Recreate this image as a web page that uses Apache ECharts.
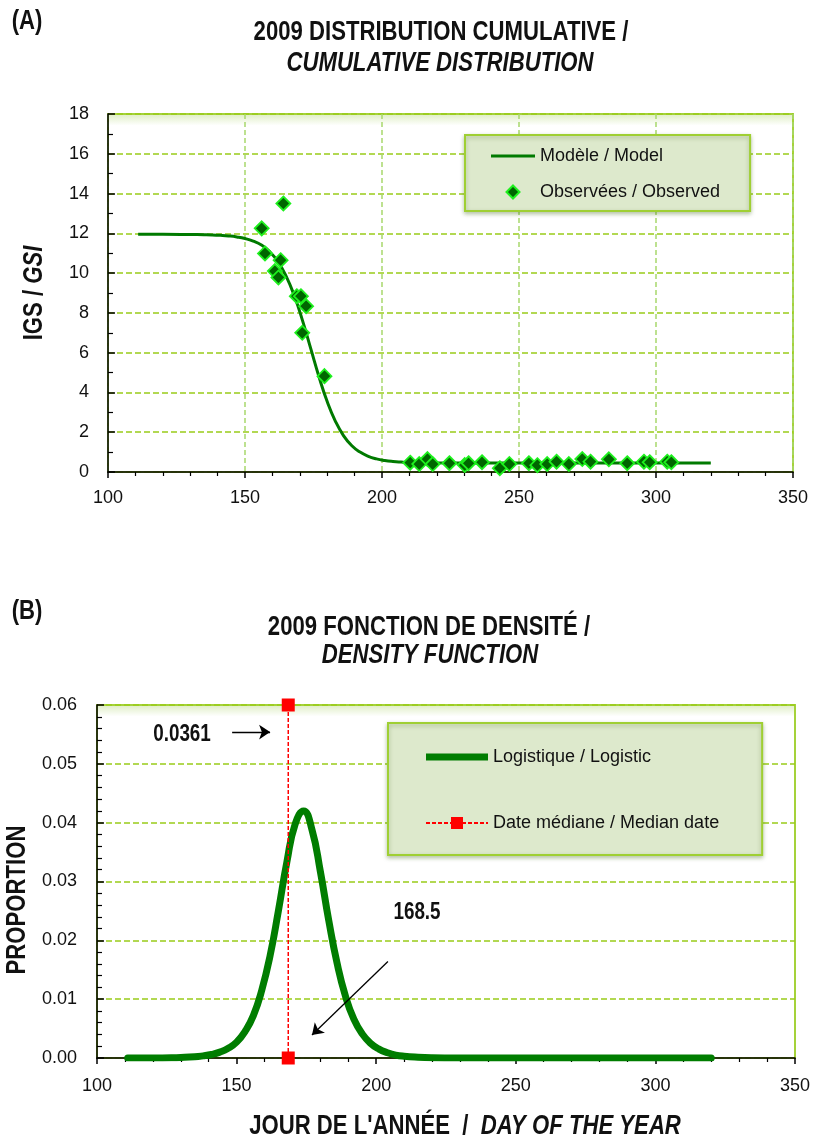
<!DOCTYPE html>
<html><head><meta charset="utf-8">
<script src="https://cdn.jsdelivr.net/npm/echarts@6/dist/echarts.min.js"></script>
<style>html,body{margin:0;padding:0;background:#fff}#c{width:817px;height:1143px}</style>
</head><body><div id="c"></div>
<script>
// ---- Panel A: cumulative distribution (IGS / GSI) ----
const modelX = [111,120,130,135,138,141,144,147,150,153,156,159,162,165,168,171,174,177,180,183,186,189,192,195,198,201,204,207,210,215,220,230,240,250,260,270,280,290,300,310,320];
const modelY = [11.95,11.95,11.94,11.93,11.92,11.90,11.87,11.82,11.74,11.61,11.41,11.08,10.58,9.85,8.86,7.61,6.20,4.79,3.54,2.55,1.82,1.32,1.00,0.79,0.66,0.58,0.53,0.50,0.48,0.47,0.46,0.45,0.45,0.45,0.45,0.45,0.45,0.45,0.45,0.45,0.45];
const obsX = [164.0,156.1,157.3,163.0,160.9,162.2,168.9,170.4,172.3,170.9,179.0,
              210.3,213.6,216.6,218.5,224.6,230.2,231.6,236.5,243.0,246.5,253.6,256.7,260.3,263.7,268.2,273.1,276.1,282.8,289.5,295.6,297.7,304.1,305.6];
const obsY = [13.5,12.25,10.99,10.65,10.1,9.78,8.84,8.84,8.34,7.0,4.82,
              0.47,0.40,0.65,0.40,0.44,0.35,0.44,0.49,0.19,0.40,0.44,0.34,0.40,0.52,0.40,0.65,0.52,0.64,0.44,0.52,0.49,0.52,0.49];
// ---- Panel B: density function ----
const densX = [111,120,130,135,138,141,144,147,150,153,156,159,162,165,168,171,174,177,180,183,186,189,192,195,198,201,204,207,210,215,220,230,240,250,260,270,280,290,300,310,320];
const densY = [0.0000,0.0000,0.0001,0.0002,0.00036,0.0006,0.0010,0.00165,0.0027,0.0045,0.0072,0.0115,0.0174,0.0251,0.0333,0.0398,0.0420,0.0388,0.0317,0.0234,0.0161,0.0105,0.0066,0.0041,0.0025,0.0015,0.0009,0.0005,0.0003,0.00014,0.00006,0.00001,0,0,0,0,0,0,0,0,0];
const medianX = [168.5, 168.5];
const medianY = [0, 0.06];
const medianLabel = '168.5';
const peakLabel = '0.0361';

const SANS = "'Liberation Sans',Arial,sans-serif";
const NX = 0.82; // horizontal squeeze emulating a narrow face
const pairs = (xs, ys) => xs.map((x, i) => [x, ys[i]]);

const chart = echarts.init(document.getElementById('c'), null, {renderer: 'canvas'});

function xAxisCfg(grid, split, margin) {
  return {
    type: 'value', gridIndex: grid, min: 100, max: 350, interval: 50,
    axisLine: {onZero: false, lineStyle: {color: '#000', width: 1.5}},
    axisTick: {show: true, length: 6, lineStyle: {color: '#000', width: 1.5}},
    minorTick: {show: true, splitNumber: 5, length: 4, lineStyle: {color: '#000', width: 1.2}},
    axisLabel: {fontFamily: SANS, fontSize: 18, color: '#111', margin: margin},
    splitLine: {show: split, lineStyle: {color: '#a8d86c', type: [5, 3], width: 1.5}},
    minorSplitLine: {show: false}
  };
}
const gridBg = {type: 'linear', x: 0, y: 0, x2: 0, y2: 1, colorStops: [
  {offset: 0, color: '#dcecc0'}, {offset: 0.035, color: '#ffffff'}, {offset: 1, color: '#ffffff'}]};

function txt(x, y, text, size, opts) {
  opts = opts || {};
  return {
    type: 'text', x: x, y: y, rotation: opts.rot || 0, scaleX: NX, z: 10,
    style: Object.assign({
      text: text, fontFamily: SANS, fontWeight: opts.weight || 'bold', fontStyle: opts.italic ? 'italic' : 'normal',
      fontSize: size, fill: '#111', align: 'center', verticalAlign: 'middle'
    }, opts.rich ? {rich: opts.rich} : {})
  };
}
const richAxis = {
  a: {fontFamily: SANS, fontWeight: 'bold', fontSize: 27, fill: '#111'},
  b: {fontFamily: SANS, fontWeight: 'bold', fontStyle: 'italic', fontSize: 27, fill: '#111'}
};

const option = {
  animation: false,
  backgroundColor: '#ffffff',
  grid: [
    {left: 108, top: 114, width: 685, height: 358, show: true, containLabel: false, outerBoundsMode: 'none', backgroundColor: gridBg, borderColor: '#a5d23a', borderWidth: 2},
    {left: 97, top: 705, width: 698, height: 353, show: true, containLabel: false, outerBoundsMode: 'none', backgroundColor: gridBg, borderColor: '#a5d23a', borderWidth: 2}
  ],
  xAxis: [xAxisCfg(0, true, 17), xAxisCfg(1, false, 19)],
  yAxis: [
    {
      type: 'value', gridIndex: 0, min: 0, max: 18, interval: 2,
      axisLine: {show: true, lineStyle: {color: '#000', width: 1.5}},
      axisTick: {show: true, inside: true, length: 7, lineStyle: {color: '#000', width: 1.5}},
      minorTick: {show: true, splitNumber: 2, length: 5, lineStyle: {color: '#000', width: 1.2}},
      axisLabel: {fontFamily: SANS, fontSize: 18, color: '#111', margin: 19},
      splitLine: {show: true, lineStyle: {color: '#99cc1a', type: [6, 3], width: 1.5}}
    },
    {
      type: 'value', gridIndex: 1, min: 0, max: 0.06, interval: 0.01,
      axisLine: {show: true, lineStyle: {color: '#000', width: 1.5}},
      axisTick: {show: true, inside: true, length: 7, lineStyle: {color: '#000', width: 1.5}},
      minorTick: {show: true, splitNumber: 5, length: 5, lineStyle: {color: '#000', width: 1.2}},
      axisLabel: {fontFamily: SANS, fontSize: 18, color: '#111', margin: 20, formatter: v => v.toFixed(2)},
      splitLine: {show: true, lineStyle: {color: '#99cc1a', type: [6, 3], width: 1.5}}
    }
  ],
  legend: [
    {
      data: [
        {name: 'Modèle / Model', icon: 'path://M0,0 L44,0 L44,3 L0,3 Z'},
        {name: 'Observées / Observed', icon: 'path://M0,-1 L1,0 L0,1 L-1,0 Z'}
      ],
      orient: 'vertical', left: 465, top: 135,
      padding: [12, 30, 10, 26], itemGap: 18, itemWidth: 44, itemHeight: 13, symbolKeepAspect: true,
      backgroundColor: '#dde9cc', borderColor: '#9fcf33', borderWidth: 2,
      shadowColor: 'rgba(60,100,20,0.35)', shadowBlur: 4, shadowOffsetY: 2,
      textStyle: {fontFamily: SANS, fontSize: 18, color: '#111'}
    },
    {
      data: [
        {name: 'Logistique / Logistic', icon: 'path://M0,0 L62,0 L62,7 L0,7 Z'},
        {name: 'Date médiane / Median date'}
      ],
      orient: 'vertical', left: 388, top: 723,
      padding: [25, 43, 23, 37], itemGap: 48, itemWidth: 62, itemHeight: 15, symbolKeepAspect: true,
      backgroundColor: '#dde9cc', borderColor: '#9fcf33', borderWidth: 2,
      shadowColor: 'rgba(60,100,20,0.35)', shadowBlur: 4, shadowOffsetY: 2,
      textStyle: {fontFamily: SANS, fontSize: 18, color: '#111'}
    }
  ],
  graphic: [
    txt(27, 22, '(A)', 27),
    txt(441, 33, '2009 DISTRIBUTION CUMULATIVE /', 27),
    txt(440, 64, 'CUMULATIVE DISTRIBUTION', 27, {italic: true}),
    txt(35, 293, '{a|IGS / }{b|GSI}', 27, {rot: Math.PI / 2, rich: richAxis}),
    txt(27, 612, '(B)', 27),
    txt(429, 628, '2009 FONCTION DE DENSITÉ /', 27),
    txt(430, 656, 'DENSITY FUNCTION', 27, {italic: true}),
    txt(18, 900, 'PROPORTION', 27, {rot: Math.PI / 2}),
    txt(465, 1127, "{a|JOUR DE L'ANNÉE  /  }{b|DAY OF THE YEAR}", 27, {rich: richAxis}),
    txt(182, 735, peakLabel, 23),
    txt(417, 913, medianLabel, 23)
  ],
  series: [
    {
      name: 'Modèle / Model', type: 'line', xAxisIndex: 0, yAxisIndex: 0,
      data: pairs(modelX, modelY), smooth: 0.5, symbol: 'none',
      lineStyle: {color: '#007a00', width: 3}, itemStyle: {color: '#007a00'}, z: 2
    },
    {
      name: 'Observées / Observed', type: 'scatter', xAxisIndex: 0, yAxisIndex: 0,
      data: pairs(obsX, obsY), symbol: 'diamond', symbolSize: 14,
      itemStyle: {color: '#006600', borderColor: '#1ef01e', borderWidth: 1.8, opacity: 1}, z: 3
    },
    {
      name: 'Logistique / Logistic', type: 'line', xAxisIndex: 1, yAxisIndex: 1,
      data: pairs(densX, densY), smooth: 0.5, symbol: 'none',
      lineStyle: {color: '#007d00', width: 7, cap: 'round', join: 'round'}, itemStyle: {color: '#007d00'}, z: 2
    },
    {
      name: 'Date médiane / Median date', type: 'line', xAxisIndex: 1, yAxisIndex: 1,
      data: pairs(medianX, medianY), symbol: 'rect', symbolSize: 13,
      lineStyle: {color: '#ff0000', type: [4, 2], width: 1.5}, itemStyle: {color: '#ff0000'}, z: 3,
      markLine: {
        silent: true, symbol: ['none', 'arrow'], symbolSize: 11,
        lineStyle: {color: '#000', type: 'solid', width: 1.3}, label: {show: false},
        data: [
          [{coord: [148.4, 0.0554]}, {coord: [162.0, 0.0554]}],
          [{coord: [204.2, 0.0164]}, {coord: [177.0, 0.0039]}]
        ]
      }
    }
  ]
};
chart.setOption(option);
</script>
</body></html>
